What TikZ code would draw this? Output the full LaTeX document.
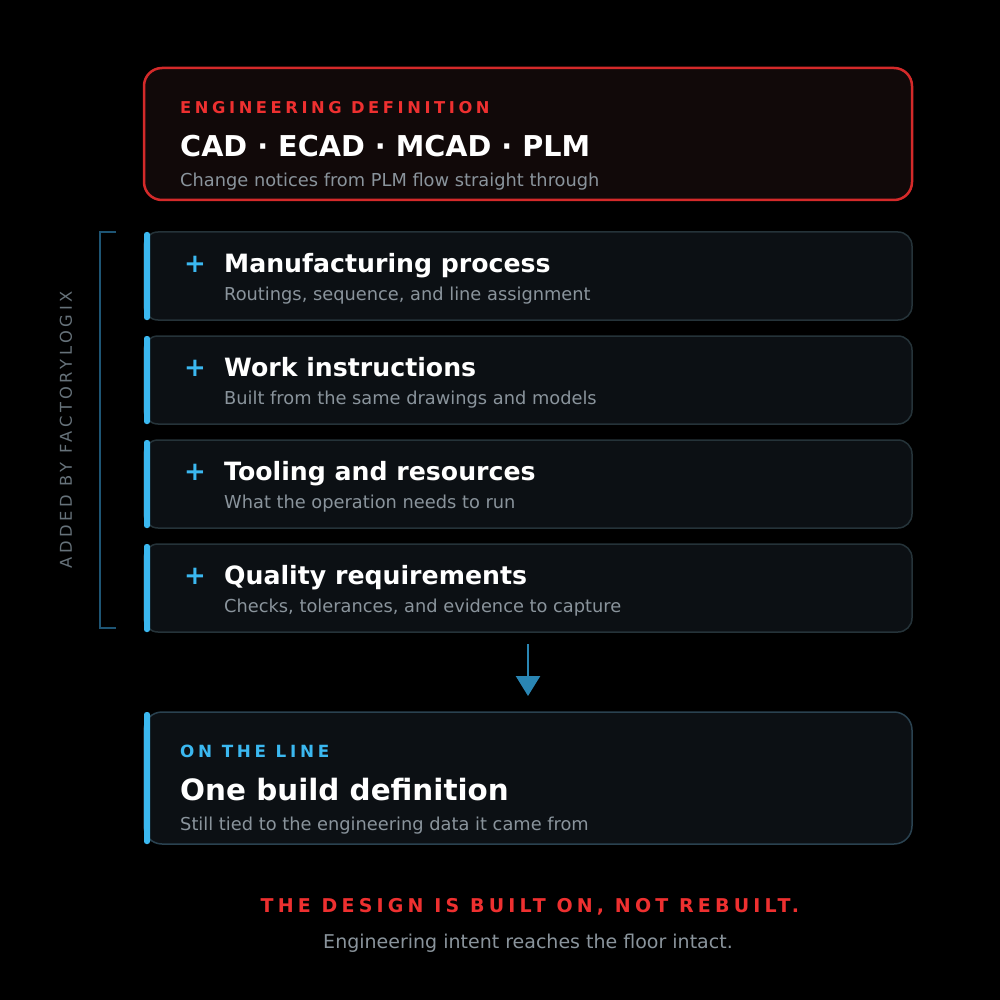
\documentclass[tikz,border=0pt]{standalone}
\usepackage{fontspec}
\setmainfont{DejaVu Sans}
\newfontfamily\spacedbold[LetterSpace=22]{DejaVu Sans Bold}
\newfontfamily\spacedreg[LetterSpace=22]{DejaVu Sans}
\usetikzlibrary{arrows.meta}
\definecolor{bg}{HTML}{000000}
\definecolor{redline}{HTML}{D42A2A}
\definecolor{redtext}{HTML}{EE3030}
\definecolor{topfill}{HTML}{110909}
\definecolor{boxfill}{HTML}{0C1014}
\definecolor{boxline}{HTML}{253339}
\definecolor{bottomline}{HTML}{2A4250}
\definecolor{accent}{HTML}{3BB8F0}
\definecolor{subgray}{HTML}{8A949C}
\definecolor{sidegray}{HTML}{66727A}
\definecolor{bracketc}{HTML}{1E5574}
\definecolor{arrowc}{HTML}{2A86B4}
\tikzset{
  card/.style={draw=boxline, line width=1.5pt, fill=boxfill, rounded corners=14pt},
  accentbar/.style={draw=none, fill=accent, rounded corners=2.5pt},
  title/.style={anchor=base west, text=white, font=\bfseries\fontsize{25.2}{28}\selectfont, inner sep=0pt},
  sub/.style={anchor=base west, text=subgray, font=\fontsize{17.8}{20}\selectfont, inner sep=0pt},
  plus/.style={anchor=base, text=accent, font=\bfseries\fontsize{26}{28}\selectfont, inner sep=0pt},
}
\begin{document}
\begin{tikzpicture}[x=1pt,y=-1pt]
\useasboundingbox (0,0) rectangle (1000,1000);
\fill[bg] (0,0) rectangle (1000,1000);

% top box
\draw[draw=redline, line width=2.5pt, fill=topfill, rounded corners=18pt] (144,68) rectangle (912,200);
\node[anchor=base west, inner sep=0pt, text=redtext, font=\spacedbold\fontsize{16.3}{18}\selectfont] (englab) at (180,114) {ENGINEERING DEFINITION};
\node[anchor=base west, inner sep=0pt, text=white, font=\bfseries\fontsize{28.7}{32}\selectfont] (cad) at (180,157) {CAD · ECAD · MCAD · PLM};
\node[sub] (chg) at (180,187) {Change notices from PLM flow straight through};

% step cards
\foreach \y/\t/\s/\n in {232/Manufacturing process/{Routings, sequence, and line assignment}/a,
                       336/Work instructions/Built from the same drawings and models/b,
                       440/Tooling and resources/What the operation needs to run/c,
                       544/Quality requirements/{Checks, tolerances, and evidence to capture}/d}{
  \draw[card] (144,\y) rectangle (912,\y+88);
  \fill[accentbar] (144,\y) rectangle (150,\y+88);
  \node[plus] (plus\n) at (195,\y+40) {+};
  \node[title] (t\n) at (224,\y+40) {\t};
  \node[sub] (s\n) at (224,\y+68) {\s};
}

% bracket
\coordinate (bt) at (116,232);
\coordinate (bb) at (116,628);
\draw[bracketc, line width=2pt] (bt) -- (100,232) -- (100,628) -- (bb);
\node[rotate=90, text=sidegray, inner sep=0pt, font=\spacedreg\fontsize{16.3}{18}\selectfont] (side) at (66,430) {ADDED BY FACTORYLOGIX};

% arrow
\coordinate (ar1) at (528,644);
\coordinate (ar2) at (528,696);
\draw[arrowc, line width=2.5pt, -{Triangle[width=24pt,length=20pt]}] (ar1) -- (ar2);

% bottom card
\draw[draw=bottomline, line width=1.5pt, fill=boxfill, rounded corners=18pt] (144,712) rectangle (912,844);
\fill[accentbar] (144,712) rectangle (150,844);
\node[anchor=base west, inner sep=0pt, text=accent, font=\spacedbold\fontsize{16.8}{18}\selectfont] (onl) at (180,757) {ON THE LINE};
\node[anchor=base west, inner sep=0pt, text=white, font=\bfseries\fontsize{29.4}{32}\selectfont] (obd) at (180,800) {One build definition};
\node[sub] (still) at (180,830) {Still tied to the engineering data it came from};

% footer
\node[anchor=base, inner sep=0pt, text=redtext, font=\spacedbold\fontsize{19}{22}\selectfont] (foot1) at (530,912) {THE DESIGN IS BUILT ON, NOT REBUILT.};
\node[anchor=base, inner sep=0pt, text=subgray, font=\fontsize{19}{22}\selectfont] (foot2) at (528,948) {Engineering intent reaches the floor intact.};
\end{tikzpicture}
\end{document}
